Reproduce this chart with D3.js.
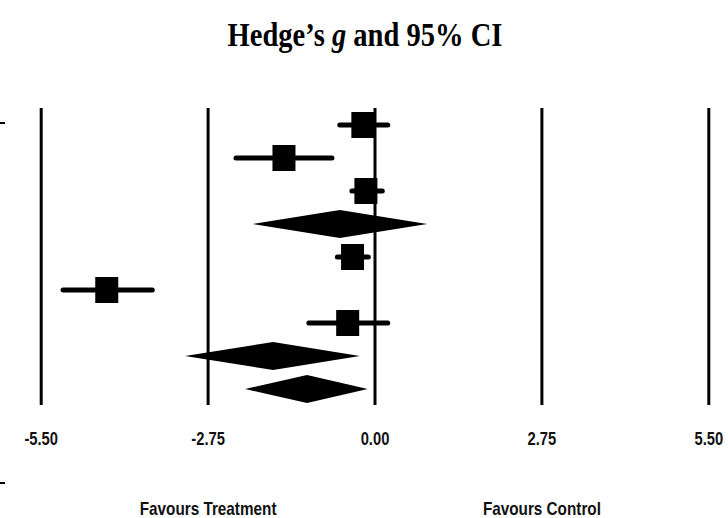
<!DOCTYPE html>
<html>
<head>
<meta charset="utf-8">
<script src="https://cdn.jsdelivr.net/npm/d3@7"></script>
<style>
  html, body { margin: 0; padding: 0; background: #fff; }
  svg { display: block; }
</style>
</head>
<body>
<script>
// ---- data ----
const rows      = ["Study 1", "Study 2", "Study 3", "Subtotal A", "Study 4", "Study 5", "Study 6", "Subtotal B", "Overall"];
const rowType   = ["study", "study", "study", "summary", "study", "study", "study", "summary", "summary"];
const effect    = [-0.20, -1.50, -0.15, -0.58, -0.37, -4.42, -0.45, -1.68, -1.12];
const lower     = [-0.58, -2.29, -0.38, -2.01, -0.62, -5.14, -1.09, -3.13, -2.14];
const upper     = [ 0.21, -0.71,  0.12,  0.86, -0.11, -3.67,  0.21, -0.25, -0.12];
const tickValues = [-5.50, -2.75, 0.00, 2.75, 5.50];
const tickLabels = ["-5.50", "-2.75", "0.00", "2.75", "5.50"];
const sideLabels = ["Favours Treatment", "Favours Control"];
const sideAt = [-2.75, 2.75];

// ---- layout ----
const W = 728, H = 518;
const svg = d3.select("body").append("svg").attr("width", W).attr("height", H);

const x = d3.scaleLinear().domain([-5.5, 5.5]).range([41.2, 708.8]);
const y = d3.scalePoint().domain(rows).range([125, 389]);
const lineTop = 108, lineBottom = 405;

// title
const tg = svg.append("g").attr("transform", "translate(365,46) scale(0.84,1)");
const tt = tg.append("text")
  .attr("text-anchor", "middle")
  .attr("font-family", "'Liberation Serif', 'Times New Roman', serif")
  .attr("font-weight", "bold")
  .attr("font-size", 34)
  .attr("fill", "#000");
tt.append("tspan").text("Hedge\u2019s ");
tt.append("tspan").attr("font-style", "italic").text("g");
tt.append("tspan").text(" and 95% CI");

// vertical reference lines
svg.append("g").selectAll("line").data(tickValues).join("line")
  .attr("x1", d => x(d)).attr("x2", d => x(d))
  .attr("y1", lineTop).attr("y2", lineBottom)
  .attr("stroke", "#000").attr("stroke-width", 3);

// small left edge dashes
svg.append("g").selectAll("line").data([123, 483]).join("line")
  .attr("x1", 0).attr("x2", 5).attr("y1", d => d).attr("y2", d => d)
  .attr("stroke", "#000").attr("stroke-width", 2);

const data = rows.map((r, i) => ({ r, type: rowType[i], e: effect[i], lo: lower[i], hi: upper[i] }));
const studies = data.filter(d => d.type === "study");
const summaries = data.filter(d => d.type === "summary");

// whiskers
svg.append("g").selectAll("line").data(studies).join("line")
  .attr("x1", d => x(d.lo)).attr("x2", d => x(d.hi))
  .attr("y1", d => y(d.r)).attr("y2", d => y(d.r))
  .attr("stroke", "#000").attr("stroke-width", 5).attr("stroke-linecap", "round");

// squares
const sqW = 23, sqH = 26;
svg.append("g").selectAll("rect").data(studies).join("rect")
  .attr("x", d => x(d.e) - sqW / 2).attr("y", d => y(d.r) - sqH / 2)
  .attr("width", sqW).attr("height", sqH).attr("fill", "#000");

// diamonds
const dh = 14;
svg.append("g").selectAll("path").data(summaries).join("path")
  .attr("d", d => {
    const cy = y(d.r);
    return `M${x(d.lo)},${cy} L${x(d.e)},${cy - dh} L${x(d.hi)},${cy} L${x(d.e)},${cy + dh} Z`;
  })
  .attr("fill", "#000");

// tick labels
svg.append("g").selectAll("g").data(tickValues).join("g")
  .attr("transform", d => `translate(${x(d)},445) scale(0.82,1)`)
  .append("text")
  .attr("text-anchor", "middle")
  .attr("font-family", "'Liberation Sans', Arial, sans-serif")
  .attr("font-weight", "bold")
  .attr("font-size", 18)
  .attr("fill", "#111")
  .text((d, i) => tickLabels[i]);

// favours labels
svg.append("g").selectAll("g").data(sideLabels).join("g")
  .attr("transform", (d, i) => `translate(${x(sideAt[i])},515) scale(0.85,1)`)
  .append("text")
  .attr("text-anchor", "middle")
  .attr("font-family", "'Liberation Sans', Arial, sans-serif")
  .attr("font-weight", "bold")
  .attr("font-size", 18)
  .attr("fill", "#111")
  .text(d => d);
</script>
</body>
</html>
